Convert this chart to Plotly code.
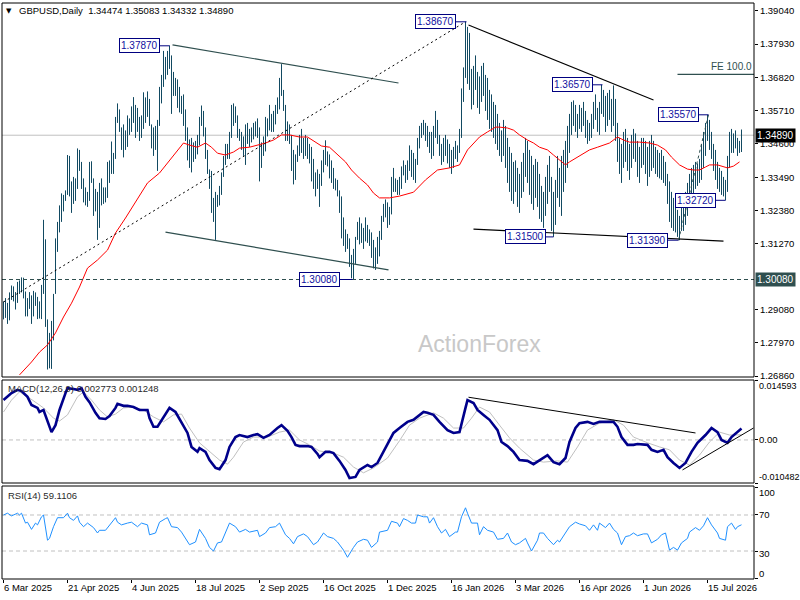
import plotly.graph_objects as go

# ---------------- data ----------------
HIGH = [
1.2935,1.2946,1.2930,1.2965,1.2988,1.2985,1.2966,1.3000,1.3005,1.3015,
1.3014,1.2968,1.2946,1.2966,1.2955,1.2970,1.2965,1.2950,1.2935,1.2990,
1.3207,1.3142,1.2875,1.2830,1.2870,1.2960,1.3145,1.3200,1.3255,1.3295,
1.3290,1.3305,1.3423,1.3420,1.3335,1.3350,1.3345,1.3445,1.3440,1.3400,
1.3345,1.3315,1.3300,1.3400,1.3402,1.3345,1.3310,1.3300,1.3330,1.3345,
1.3315,1.3315,1.3400,1.3405,1.3468,1.3430,1.3550,1.3595,1.3575,1.3515,
1.3525,1.3505,1.3555,1.3545,1.3585,1.3616,1.3590,1.3580,1.3550,1.3555,
1.3632,1.3615,1.3635,1.3610,1.3525,1.3515,1.3520,1.3540,1.3650,1.3690,
1.3770,1.3750,1.3770,1.3788,1.3755,1.3700,1.3680,1.3675,1.3650,1.3620,
1.3625,1.3575,1.3515,1.3475,1.3480,1.3465,1.3470,1.3490,1.3550,1.3588,
1.3570,1.3515,1.3440,1.3375,1.3370,1.3280,1.3300,1.3290,1.3320,1.3365,
1.3420,1.3460,1.3460,1.3500,1.3590,1.3595,1.3585,1.3555,1.3510,1.3500,
1.3485,1.3525,1.3530,1.3510,1.3515,1.3530,1.3535,1.3545,1.3515,1.3465,
1.3485,1.3550,1.3545,1.3590,1.3560,1.3570,1.3590,1.3615,1.3680,1.3726,
1.3640,1.3590,1.3535,1.3525,1.3490,1.3440,1.3425,1.3455,1.3490,1.3510,
1.3480,1.3490,1.3480,1.3460,1.3450,1.3410,1.3365,1.3375,1.3360,1.3405,
1.3440,1.3472,1.3435,1.3425,1.3405,1.3380,1.3345,1.3340,1.3305,1.3285,
1.3215,1.3175,1.3160,1.3145,1.3090,1.3110,1.3150,1.3200,1.3215,1.3195,
1.3180,1.3215,1.3190,1.3175,1.3165,1.3140,1.3115,1.3150,1.3170,1.3220,
1.3260,1.3275,1.3265,1.3250,1.3350,1.3380,1.3345,1.3340,1.3350,1.3385,
1.3405,1.3390,1.3405,1.3455,1.3440,1.3430,1.3410,1.3480,1.3520,1.3530,
1.3540,1.3530,1.3520,1.3500,1.3500,1.3520,1.3570,1.3540,1.3490,1.3460,
1.3480,1.3490,1.3475,1.3460,1.3440,1.3450,1.3470,1.3455,1.3510,1.3645,
1.3715,1.3867,1.3850,1.3830,1.3710,1.3720,1.3755,1.3700,1.3685,1.3720,
1.3730,1.3690,1.3680,1.3640,1.3625,1.3600,1.3590,1.3560,1.3530,1.3505,
1.3540,1.3520,1.3480,1.3450,1.3430,1.3400,1.3405,1.3380,1.3360,1.3400,
1.3430,1.3480,1.3470,1.3440,1.3420,1.3390,1.3410,1.3400,1.3360,1.3320,
1.3300,1.3350,1.3390,1.3420,1.3350,1.3300,1.3340,1.3420,1.3380,1.3420,
1.3440,1.3470,1.3520,1.3560,1.3600,1.3605,1.3590,1.3560,1.3590,1.3580,
1.3600,1.3570,1.3540,1.3530,1.3560,1.3600,1.3625,1.3580,1.3600,1.3657,
1.3640,1.3620,1.3630,1.3640,1.3610,1.3655,1.3610,1.3530,1.3480,1.3460,
1.3500,1.3510,1.3480,1.3460,1.3490,1.3510,1.3495,1.3470,1.3450,1.3480,
1.3480,1.3470,1.3450,1.3470,1.3490,1.3470,1.3450,1.3440,1.3430,1.3440,
1.3420,1.3400,1.3360,1.3335,1.3300,1.3280,1.3260,1.3240,1.3220,1.3270,
1.3270,1.3300,1.3330,1.3360,1.3380,1.3390,1.3400,1.3395,1.3410,1.3460,
1.3500,1.3530,1.3557,1.3540,1.3500,1.3460,1.3440,1.3400,1.3380,1.3370,
1.3350,1.3340,1.3420,1.3500,1.3510,1.3495,1.3505,1.3480,1.3470,1.3508,
]
LOW = [
1.2875,1.2880,1.2860,1.2872,1.2940,1.2935,1.2908,1.2930,1.2960,1.2965,
1.2945,1.2885,1.2885,1.2910,1.2860,1.2885,1.2920,1.2876,1.2878,1.2876,
1.2960,1.2850,1.2708,1.2712,1.2710,1.2805,1.2960,1.3100,1.3165,1.3200,
1.3235,1.3270,1.3290,1.3285,1.3230,1.3260,1.3270,1.3310,1.3370,1.3310,
1.3265,1.3255,1.3250,1.3270,1.3330,1.3220,1.3235,1.3140,1.3180,1.3255,
1.3260,1.3265,1.3280,1.3330,1.3360,1.3360,1.3410,1.3530,1.3500,1.3440,
1.3415,1.3440,1.3450,1.3490,1.3500,1.3530,1.3480,1.3500,1.3470,1.3480,
1.3510,1.3530,1.3550,1.3520,1.3445,1.3420,1.3440,1.3370,1.3520,1.3595,
1.3650,1.3675,1.3690,1.3710,1.3560,1.3620,1.3620,1.3580,1.3565,1.3560,
1.3520,1.3470,1.3405,1.3380,1.3365,1.3400,1.3410,1.3425,1.3455,1.3520,
1.3485,1.3410,1.3360,1.3310,1.3230,1.3200,1.3140,1.3250,1.3255,1.3290,
1.3350,1.3390,1.3410,1.3410,1.3480,1.3520,1.3530,1.3480,1.3470,1.3440,
1.3420,1.3390,1.3460,1.3450,1.3465,1.3475,1.3485,1.3480,1.3335,1.3380,
1.3420,1.3435,1.3485,1.3505,1.3500,1.3500,1.3525,1.3560,1.3575,1.3620,
1.3570,1.3470,1.3470,1.3460,1.3370,1.3325,1.3340,1.3400,1.3420,1.3430,
1.3410,1.3420,1.3410,1.3395,1.3335,1.3310,1.3285,1.3310,1.3250,1.3320,
1.3365,1.3390,1.3385,1.3345,1.3330,1.3310,1.3305,1.3285,1.3230,1.3145,
1.3120,1.3100,1.3110,1.3050,1.3012,1.3008,1.3060,1.3140,1.3125,1.3130,
1.3110,1.3135,1.3130,1.3120,1.3080,1.3045,1.3040,1.3060,1.3085,1.3140,
1.3200,1.3215,1.3180,1.3190,1.3225,1.3300,1.3300,1.3290,1.3290,1.3310,
1.3355,1.3330,1.3340,1.3370,1.3350,1.3340,1.3330,1.3390,1.3445,1.3480,
1.3490,1.3470,1.3450,1.3430,1.3410,1.3420,1.3480,1.3460,1.3420,1.3390,
1.3400,1.3420,1.3395,1.3380,1.3360,1.3380,1.3410,1.3400,1.3430,1.3480,
1.3600,1.3680,1.3660,1.3640,1.3575,1.3590,1.3640,1.3580,1.3560,1.3600,
1.3620,1.3570,1.3540,1.3510,1.3500,1.3480,1.3460,1.3440,1.3420,1.3400,
1.3420,1.3380,1.3330,1.3300,1.3270,1.3260,1.3300,1.3250,1.3230,1.3280,
1.3300,1.3350,1.3330,1.3290,1.3260,1.3240,1.3280,1.3250,1.3210,1.3200,
1.3180,1.3220,1.3260,1.3300,1.3170,1.3150,1.3190,1.3280,1.3250,1.3220,
1.3300,1.3330,1.3380,1.3430,1.3490,1.3520,1.3500,1.3480,1.3510,1.3500,
1.3520,1.3480,1.3460,1.3470,1.3480,1.3510,1.3540,1.3500,1.3490,1.3560,
1.3550,1.3500,1.3520,1.3540,1.3500,1.3520,1.3470,1.3400,1.3360,1.3330,
1.3380,1.3400,1.3370,1.3340,1.3380,1.3410,1.3400,1.3350,1.3330,1.3380,
1.3390,1.3360,1.3320,1.3350,1.3370,1.3380,1.3360,1.3350,1.3345,1.3340,
1.3330,1.3320,1.3260,1.3200,1.3180,1.3170,1.3165,1.3150,1.3139,1.3170,
1.3170,1.3190,1.3220,1.3250,1.3280,1.3290,1.3310,1.3320,1.3330,1.3340,
1.3380,1.3420,1.3470,1.3440,1.3410,1.3370,1.3340,1.3310,1.3300,1.3290,
1.3285,1.3272,1.3300,1.3380,1.3430,1.3430,1.3445,1.3420,1.3430,1.3433,
]

# red moving average (bar index, value)
MA_IDX = [8,14,18,22,26,30,34,38,42,47,52,56,61,66,72,78,83,87,90,93,97,101,104,107,111,115,118,123,
          127,131,135,139,143,148,152,156,159,163,167,171,174,178,182,185,188,193,198,205,211,217,223,
          228,232,235,238,242,246,248,252,255,258,262,265,268,272,275,278,281,283,287,290,293,297,300,
          303,307,310,313,318,323,327,331,334,338,342,345,348,351,353,357,360,362,365,368]
MA_VAL = [1.2690,1.2733,1.2766,1.2790,1.2830,1.2883,1.2929,1.2983,1.3046,1.3073,1.3106,1.3163,1.3213,
          1.3266,1.3330,1.3363,1.3406,1.3440,1.3463,1.3456,1.3449,1.3463,1.3449,1.3429,1.3423,1.3433,
          1.3446,1.3449,1.3456,1.3463,1.3473,1.3490,1.3490,1.3483,1.3483,1.3466,1.3453,1.3449,1.3423,
          1.3400,1.3373,1.3346,1.3323,1.3296,1.3280,1.3280,1.3286,1.3299,1.3340,1.3373,1.3380,1.3390,
          1.3440,1.3463,1.3483,1.3500,1.3516,1.3516,1.3513,1.3506,1.3490,1.3473,1.3463,1.3449,1.3440,
          1.3423,1.3406,1.3390,1.3400,1.3416,1.3429,1.3440,1.3449,1.3456,1.3463,1.3483,1.3473,1.3466,
          1.3466,1.3463,1.3456,1.3440,1.3416,1.3390,1.3376,1.3373,1.3373,1.3383,1.3390,1.3390,1.3383,
          1.3380,1.3386,1.3400]

MACD_IDX = [0,2,4,7,9,12,14,17,18,20,22,24,26,28,31,32,35,37,39,41,43,46,48,51,53,56,57,60,62,65,68,72,
            73,75,77,80,83,86,89,92,94,97,98,101,103,106,108,111,113,116,118,122,125,127,130,133,137,
            139,142,144,146,148,152,154,157,158,161,163,165,168,171,173,176,178,182,184,187,190,192,
            195,198,202,205,207,210,212,215,218,222,225,228,231,232,235,237,240,243,247,249,252,255,
            258,262,265,268,272,275,278,281,283,286,288,292,295,298,302,305,307,309,312,315,317,322,
            324,327,330,332,335,338,341,344,347,351,354,357,359,362,364,367,369]
MACD_VAL = [0.0097,0.0105,0.0114,0.0122,0.0119,0.0105,0.0085,0.0078,0.0068,0.0073,0.0044,0.0019,0.0036,
            0.0073,0.0114,0.0126,0.0124,0.0122,0.0126,0.0105,0.0092,0.0066,0.0053,0.0051,0.0058,0.0078,
            0.0088,0.0083,0.0083,0.0080,0.0073,0.0073,0.0053,0.0032,0.0032,0.0056,0.0078,0.0068,0.0044,
            0.0017,-0.0017,-0.0029,-0.0020,-0.0029,-0.0049,-0.0068,-0.0071,-0.0049,-0.0017,0.0007,
            0.0012,0.0007,0.0012,0.0014,0.0005,0.0012,0.0029,0.0036,0.0022,0.0007,-0.0012,-0.0015,
            -0.0015,-0.0017,-0.0034,-0.0042,-0.0029,-0.0029,-0.0032,-0.0051,-0.0073,-0.0093,-0.0090,
            -0.0073,-0.0061,-0.0066,-0.0056,-0.0029,-0.0012,0.0017,0.0029,0.0044,0.0049,0.0056,0.0068,
            0.0066,0.0061,0.0044,0.0024,0.0017,0.0019,0.0078,0.0097,0.0090,0.0073,0.0061,0.0049,0.0024,
            -0.0005,-0.0015,-0.0029,-0.0049,-0.0051,-0.0059,-0.0049,-0.0037,-0.0054,-0.0059,-0.0044,
            -0.0005,0.0029,0.0041,0.0044,0.0039,0.0044,0.0044,0.0044,0.0032,0.0007,-0.0012,-0.0012,
            -0.0010,-0.0012,-0.0024,-0.0029,-0.0024,-0.0042,-0.0056,-0.0068,-0.0056,-0.0029,-0.0007,
            0.0012,0.0029,0.0019,0.0000,-0.0007,0.0007,0.0019,0.002773]

SIG_IDX = [0,4,8,13,20,25,28,32,37,40,44,48,52,56,60,65,70,75,80,85,89,93,98,103,108,112,115,120,125,
           132,138,143,148,153,158,165,170,175,180,185,192,198,203,208,215,220,225,230,234,238,243,248,
           253,258,265,270,277,282,287,292,298,305,310,315,322,328,333,338,343,348,353,358,363,369]
SIG_VAL = [0.0068,0.0097,0.0117,0.0102,0.0078,0.0053,0.0046,0.0061,0.0105,0.0117,0.0097,0.0073,0.0056,
           0.0063,0.0078,0.0080,0.0073,0.0056,0.0044,0.0061,0.0063,0.0029,-0.0007,-0.0029,-0.0049,
           -0.0059,-0.0042,-0.0005,0.0007,0.0007,0.0019,0.0024,0.0000,-0.0012,-0.0027,-0.0032,-0.0042,
           -0.0066,-0.0080,-0.0068,-0.0044,-0.0002,0.0036,0.0053,0.0066,0.0053,0.0029,0.0029,0.0053,
           0.0080,0.0068,0.0036,0.0005,-0.0020,-0.0049,-0.0054,-0.0051,-0.0054,-0.0017,0.0024,0.0041,
           0.0049,0.0036,0.0007,-0.0007,-0.0017,-0.0024,-0.0049,-0.0061,-0.0037,-0.0005,0.0019,0.0012,
           0.001248]

RSI_IDX = [0,2,4,7,8,9,11,12,14,16,17,19,20,22,23,25,27,30,32,33,35,37,38,40,42,45,47,48,51,53,56,57,59,
           62,64,67,69,72,73,76,78,81,82,84,87,89,92,93,96,98,101,103,105,107,109,111,113,116,118,121,
           123,127,128,131,133,136,138,141,143,145,147,150,152,155,157,160,162,165,167,170,172,175,177,
           180,182,184,187,188,192,194,197,198,199,200,202,204,206,207,210,212,213,215,217,219,221,223,
           226,227,229,231,232,234,237,238,240,242,245,247,250,252,254,256,258,261,262,264,267,268,270,
           272,275,277,278,281,283,286,288,291,293,295,297,298,301,303,305,307,309,311,313,315,317,320,
           322,324,327,329,331,333,335,337,339,342,343,346,348,350,352,354,357,358,361,362,364,366,367,369]
RSI_VAL = [70,72,69,72,70,72,61,62,54,61,59,68,70,42,44,57,67,67,72,67,64,69,62,57,61,56,50,53,53,59,67,
           62,59,61,62,57,61,59,48,50,62,66,67,57,56,51,40,37,40,54,44,34,30,39,40,51,61,57,51,54,51,53,
           46,50,56,57,61,48,44,38,46,49,46,37,40,50,46,44,40,31,23,34,40,43,42,34,40,51,53,63,61,57,62,
           66,64,61,61,70,68,68,61,67,57,50,54,46,51,51,68,78,72,61,61,48,57,53,51,43,44,50,40,37,39,44,
           39,30,42,50,50,44,37,42,40,51,57,62,60,58,53,59,53,61,56,61,54,50,37,46,47,50,47,49,49,39,43,
           48,50,31,34,31,39,44,51,56,53,58,67,59,50,44,42,57,61,54,57,59.1106]

DATE_IDX = [0, 32, 64, 96, 128, 160, 192, 224, 256, 288, 320, 352]
DATE_LABELS = ["6 Mar 2025", "21 Apr 2025", "4 Jun 2025", "18 Jul 2025", "2 Sep 2025", "16 Oct 2025",
               "1 Dec 2025", "16 Jan 2026", "3 Mar 2026", "16 Apr 2026", "1 Jun 2026", "15 Jul 2026"]
PRICE_TICKS = [1.39040, 1.37930, 1.36820, 1.35710, 1.34600, 1.33490, 1.32380, 1.31270,
               1.29080, 1.27970, 1.26860]

# swing labels: (text, box right edge index, bar index, price)
SWINGS = [("1.37870", 78, 83, 1.3787), ("1.38670", 226, 231.5, 1.3867),
          ("1.36570", 294.5, 299.5, 1.3657), ("1.35570", 347.5, 352.5, 1.3557),
          ("1.32720", 356, 361, 1.3272), ("1.31500", 271, 275, 1.3150),
          ("1.31390", 332, 337.5, 1.3139), ("1.30080", 168, 174.5, 1.3008)]

# trendlines: (x0, y0, x1, y1)
CHANNEL_UP = (84.5, 1.3790, 197.5, 1.3663)
CHANNEL_DN = (81, 1.3166, 192.5, 1.3040)
DOTTED_UP = (0, 1.2933, 231, 1.3867)
DOWNTREND = (232.5, 1.3856, 325, 1.3606)
BOTTOM_LINE = (235, 1.3176, 360, 1.3136)
FE_LEG = (337.5, 1.3139, 352.5, 1.3557)
FE_LEVEL = 1.3692
FE_START = 337
SUPPORT = 1.3008
LAST_PRICE = 1.3489
MACD_UPPER = (232.5, 0.0104, 346, 0.0017)
MACD_LOWER = (339.5, -0.0073, 375, 0.0029)
MACD_MAX, MACD_MIN = 0.014593, -0.010482

assert len(HIGH) == len(LOW) == 370
assert len(MA_IDX) == len(MA_VAL)
assert len(MACD_IDX) == len(MACD_VAL)
assert len(SIG_IDX) == len(SIG_VAL)
assert len(RSI_IDX) == len(RSI_VAL)

# ---------------- figure ----------------
W, H = 800, 600
ML, MR, MT, MB = 2, 46, 3, 21
PW, PH = W - ML - MR, H - MT - MB


def px(x):
    return (x - ML) / PW


def py(y):
    return (H - MB - y) / PH


FONT = "Liberation Sans, Arial, sans-serif"
BAR_C = "#124a62"
SLATE = "#2f4f4f"
NAVY = "#000080"

fig = go.Figure()

bx, by = [], []
for i, (h, l) in enumerate(zip(HIGH, LOW)):
    bx += [i, i, None]
    by += [l, h, None]
fig.add_trace(go.Scatter(x=bx, y=by, mode="lines", line=dict(color=BAR_C, width=1),
                         yaxis="y", hoverinfo="skip"))
fig.add_trace(go.Scatter(x=MA_IDX, y=MA_VAL, mode="lines", line=dict(color="#ff0000", width=1),
                         yaxis="y", hoverinfo="skip"))
fig.add_trace(go.Scatter(x=SIG_IDX, y=SIG_VAL, mode="lines", line=dict(color="#c0c0c0", width=1),
                         yaxis="y2", hoverinfo="skip"))
fig.add_trace(go.Scatter(x=MACD_IDX, y=MACD_VAL, mode="lines", line=dict(color="#00008b", width=2.6),
                         yaxis="y2", hoverinfo="skip"))
fig.add_trace(go.Scatter(x=RSI_IDX, y=RSI_VAL, mode="lines", line=dict(color="#1e90ff", width=1),
                         yaxis="y3", hoverinfo="skip"))

shapes = []


def seg(t, yref, color, width=1.0, dash="solid"):
    shapes.append(dict(type="line", xref="x", yref=yref, x0=t[0], y0=t[1], x1=t[2], y1=t[3],
                       line=dict(color=color, width=width, dash=dash), layer="above"))


# horizontal reference lines (main)
shapes.append(dict(type="line", xref="paper", yref="y", x0=0, x1=1, y0=LAST_PRICE, y1=LAST_PRICE,
                   line=dict(color="#c0c0c0", width=1), layer="below"))
shapes.append(dict(type="line", xref="paper", yref="y", x0=0, x1=1, y0=SUPPORT, y1=SUPPORT,
                   line=dict(color=SLATE, width=1, dash="4px,3px"), layer="above"))
seg(CHANNEL_UP, "y", SLATE, 1.2)
seg(CHANNEL_DN, "y", SLATE, 1.2)
seg(DOTTED_UP, "y", "#000000", 1, "2px,3px")
seg(DOWNTREND, "y", "#000000", 1.1)
seg(BOTTOM_LINE, "y", "#000000", 1.1)
seg(FE_LEG, "y", SLATE, 1, "3px,3px")
seg((FE_START, FE_LEVEL, 375.5, FE_LEVEL), "y", SLATE, 1.2)
for t, xr, xb, p in SWINGS:
    seg((xr, p, xb, p), "y", NAVY, 1)

# MACD / RSI reference lines
shapes.append(dict(type="line", xref="paper", yref="y2", x0=0, x1=1, y0=0, y1=0,
                   line=dict(color="#c0c0c0", width=1, dash="4px,3px"), layer="below"))
for lv in (70, 30):
    shapes.append(dict(type="line", xref="paper", yref="y3", x0=0, x1=1, y0=lv, y1=lv,
                       line=dict(color="#c0c0c0", width=1, dash="4px,3px"), layer="below"))
seg(MACD_UPPER, "y2", "#000000", 1)
seg(MACD_LOWER, "y2", "#000000", 1)

# panel frames
for ax in ("y", "y2", "y3"):
    shapes.append(dict(type="rect", xref="paper", yref=ax + " domain", x0=0, x1=1, y0=0, y1=1,
                       line=dict(color="#000000", width=1), fillcolor="rgba(0,0,0,0)", layer="above"))

ann = []
# swing labels
for t, xr, xb, p in SWINGS:
    ann.append(dict(x=xr, y=p, xref="x", yref="y", text=t, showarrow=False, xanchor="right",
                    yanchor="middle", font=dict(family=FONT, size=10, color="#1010a0"),
                    bgcolor="#ffffff", bordercolor=NAVY, borderwidth=1, borderpad=1))
# FE label
ann.append(dict(x=375, y=FE_LEVEL, xref="x", yref="y", text="FE 100.0", showarrow=False,
                xanchor="right", yanchor="bottom", yshift=0,
                font=dict(family=FONT, size=10, color=SLATE)))
# axis value boxes
ann.append(dict(x=1, y=LAST_PRICE, xref="paper", yref="y", text="1.34890", showarrow=False,
                xanchor="left", yanchor="middle", xshift=1, bgcolor="#000000",
                font=dict(family=FONT, size=10, color="#ffffff"), borderpad=1))
ann.append(dict(x=1, y=SUPPORT, xref="paper", yref="y", text="1.30080", showarrow=False,
                xanchor="left", yanchor="middle", xshift=1, bgcolor=SLATE,
                font=dict(family=FONT, size=10, color="#ffffff"), borderpad=1))
# indicator axis labels
for txt, val, ref, sh, fs in [("0.014593", MACD_MAX, "y2", -6, 9), ("0.00", 0, "y2", 0, 9.5),
                              ("-0.010482", MACD_MIN, "y2", 6, 9),
                              ("100", 100, "y3", -5, 9.5), ("70", 70, "y3", 0, 9.5),
                              ("30", 30, "y3", -2, 9.5), ("0", 0, "y3", 5, 9.5)]:
    ann.append(dict(x=1, y=val, xref="paper", yref=ref, text=txt, showarrow=False, xanchor="left",
                    yanchor="middle", xshift=3, yshift=sh,
                    font=dict(family=FONT, size=fs, color="#000000")))
# header texts
ann.append(dict(x=px(9), y=py(11), xref="paper", yref="paper", text="▼", showarrow=False,
                xanchor="center", yanchor="middle", font=dict(family="DejaVu Sans", size=7, color="#000000")))
ann.append(dict(x=px(17), y=py(11), xref="paper", yref="paper",
                text="GBPUSD,Daily  1.34474 1.35083 1.34332 1.34890", showarrow=False,
                xanchor="left", yanchor="middle", font=dict(family=FONT, size=9.5, color="#000000")))
ann.append(dict(x=px(6), y=py(388), xref="paper", yref="paper",
                text="MACD(12,26,9) 0.002773 0.001248", showarrow=False,
                xanchor="left", yanchor="middle", font=dict(family=FONT, size=9.5, color="#2a2a2a")))
ann.append(dict(x=px(6), y=py(495), xref="paper", yref="paper", text="RSI(14) 59.1106",
                showarrow=False, xanchor="left", yanchor="middle",
                font=dict(family=FONT, size=9.5, color="#2a2a2a")))
ann.append(dict(x=px(480), y=py(344), xref="paper", yref="paper", text="ActionForex",
                showarrow=False, xanchor="center", yanchor="middle",
                font=dict(family=FONT, size=23, color="#c8c8c8")))

common_y = dict(side="right", showgrid=False, zeroline=False, ticks="outside", ticklen=3,
                tickcolor="#000000", showline=False, fixedrange=True)

fig.update_layout(
    width=W, height=H, margin=dict(l=ML, r=MR, t=MT, b=MB, pad=0),
    paper_bgcolor="#ffffff", plot_bgcolor="#ffffff", showlegend=False, hovermode=False,
    font=dict(family=FONT, size=9.5, color="#000000"),
    xaxis=dict(range=[-0.75, 375.25], anchor="y3", showgrid=False, zeroline=False,
               tickvals=DATE_IDX, ticktext=DATE_LABELS, ticks="outside", ticklen=3,
               tickcolor="#000000", ticklabelposition="outside right", showline=False,
               tickfont=dict(family=FONT, size=9.5, color="#000000"), fixedrange=True),
    yaxis=dict(domain=[py(377), 1.0], range=[1.26830, 1.39297], tickvals=PRICE_TICKS,
               tickformat=".5f", tickfont=dict(family=FONT, size=9.5, color="#000000"), **common_y),
    yaxis2=dict(domain=[py(483), py(380)], range=[MACD_MIN, MACD_MAX],
                tickvals=[MACD_MAX, 0, MACD_MIN], showticklabels=False, **common_y),
    yaxis3=dict(domain=[0, py(486)], range=[-1.1, 102.2], tickvals=[0, 30, 70, 100],
                showticklabels=False, **common_y),
    shapes=shapes, annotations=ann,
)

fig.write_html("out.html", config={"displayModeBar": False, "staticPlot": True},
               post_script="document.body.style.margin='0px';")
